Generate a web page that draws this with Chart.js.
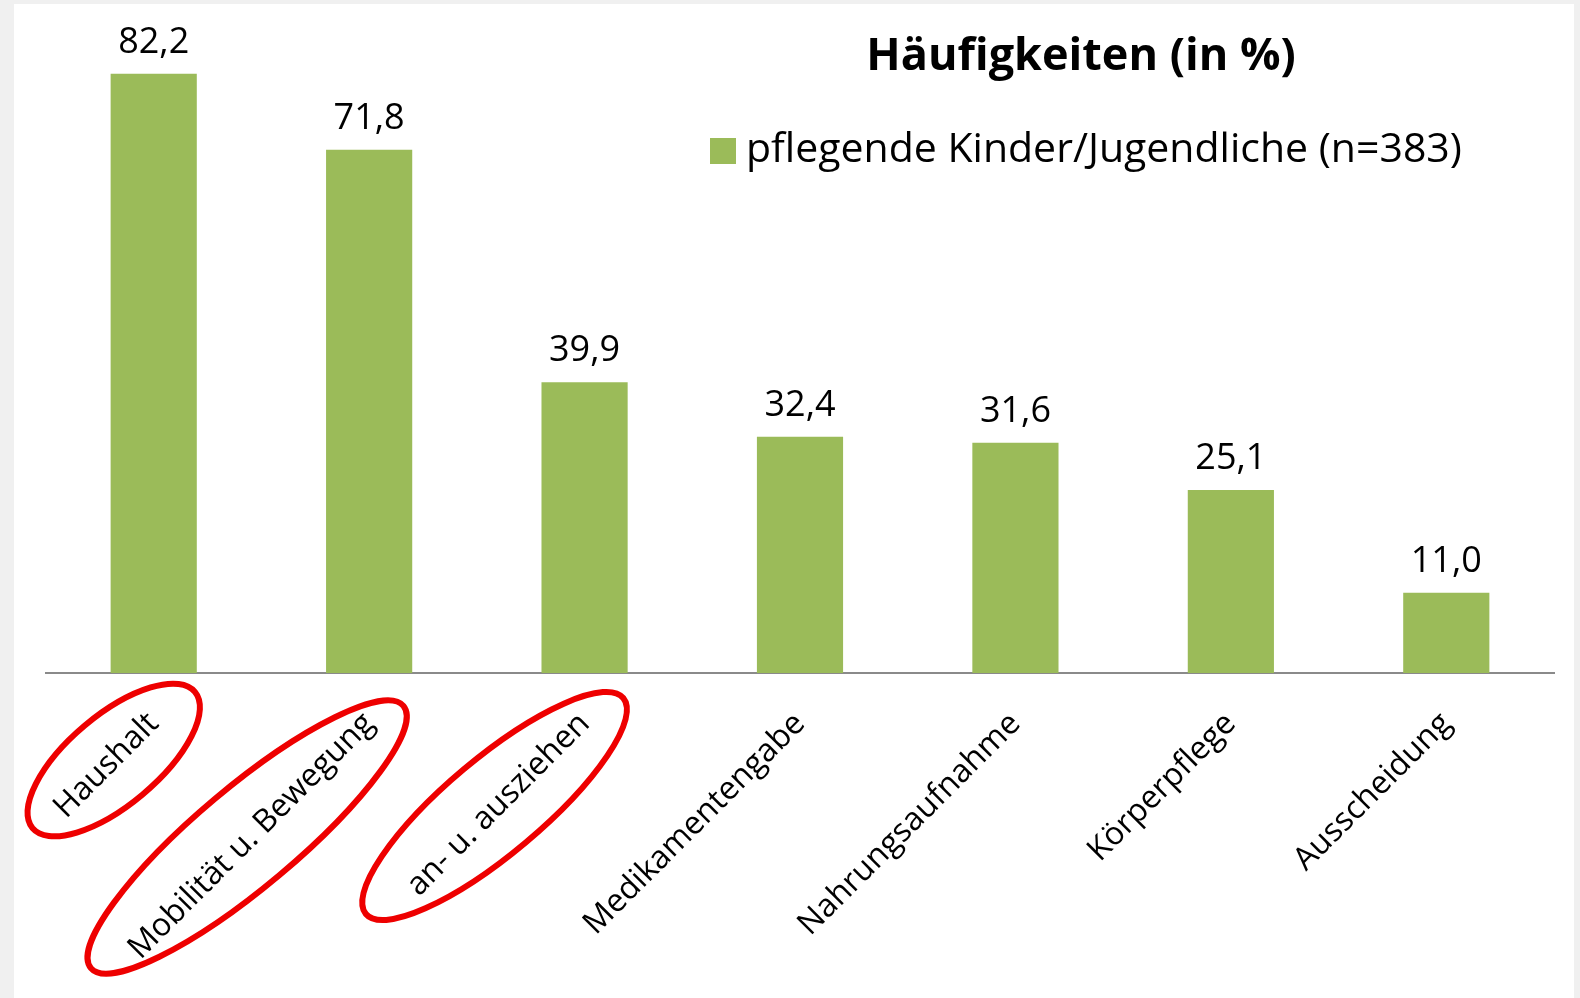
<!DOCTYPE html>
<html>
<head>
<meta charset="utf-8">
<script src="https://cdn.jsdelivr.net/npm/chart.js@4"></script>
<style>
  html, body { margin: 0; padding: 0; background: #f0f0f0; }
  #wrap { width: 1580px; height: 998px; }
</style>
</head>
<body>
<div id="wrap"><canvas id="myChart"></canvas></div>
<script>
const categories = ['Haushalt', 'Mobilität u. Bewegung', 'an- u. ausziehen', 'Medikamentengabe', 'Nahrungsaufnahme', 'Körperpflege', 'Ausscheidung'];
const values = [82.2, 71.8, 39.9, 32.4, 31.6, 25.1, 11.0];
const seriesLabel = 'pflegende Kinder/Jugendliche (n=383)';
const chartTitle = 'Häufigkeiten (in %)';
const circled = [0, 1, 2];

const green = '#9bbb59';

// hand drawn red rings around the first three labels (offsets from tick / axis)
const rings = [
  { dx: -40, dy: 87, a: 106, b: 45 },
  { dx: -122, dy: 164, a: 204, b: 50 },
  { dx: -90, dy: 133, a: 168, b: 48 },
];

const panel = {
  id: 'panel',
  beforeDraw(chart) {
    const c = chart.ctx;
    c.save();
    c.fillStyle = '#ffffff';
    c.fillRect(14, 4, 1560, 994);
    c.restore();
  }
};

const valueLabels = {
  id: 'valueLabels',
  afterDatasetsDraw(chart) {
    const c = chart.ctx;
    const meta = chart.getDatasetMeta(0);
    c.save();
    c.font = "36px 'Open Sans'";
    c.fillStyle = '#000';
    c.textAlign = 'center';
    c.textBaseline = 'alphabetic';
    meta.data.forEach((bar, i) => {
      c.fillText(values[i].toFixed(1).replace('.', ','), bar.x, bar.y - 21);
    });
    c.restore();
  }
};

const header = {
  id: 'header',
  afterDraw(chart) {
    const c = chart.ctx;
    const ds = chart.data.datasets[0];
    c.save();
    c.fillStyle = '#000';
    c.textBaseline = 'middle';
    c.textAlign = 'center';
    c.font = "bold 45px 'Open Sans'";
    c.fillText(chartTitle, 1081, 57);
    c.fillStyle = ds.backgroundColor;
    c.fillRect(710, 138, 26, 26);
    c.fillStyle = '#000';
    c.textAlign = 'left';
    c.font = "41px 'Open Sans'";
    c.fillText(ds.label, 746, 150);
    c.restore();
  }
};

const redRings = {
  id: 'redRings',
  afterDraw(chart) {
    const c = chart.ctx;
    const xs = chart.scales.x;
    const axisY = chart.chartArea.bottom;
    c.save();
    c.strokeStyle = '#ee0000';
    c.lineWidth = 6;
    circled.forEach((idx, k) => {
      const r = rings[k];
      c.beginPath();
      c.ellipse(xs.getPixelForValue(idx) + r.dx, axisY + r.dy, r.a, r.b, -40 * Math.PI / 180, 0, Math.PI * 2);
      c.stroke();
    });
    c.restore();
  }
};

Chart.defaults.font.family = "'Open Sans', sans-serif";
Chart.defaults.color = '#000';

const ctx = document.getElementById('myChart');
new Chart(ctx, {
  type: 'bar',
  data: {
    labels: categories,
    datasets: [{
      label: seriesLabel,
      data: values,
      backgroundColor: green,
      categoryPercentage: 1,
      barPercentage: 0.4,
    }]
  },
  options: {
    responsive: true,
    maintainAspectRatio: false,
    animation: false,
    layout: { padding: { left: 46, right: 26, top: 17, bottom: 0 } },
    plugins: {
      legend: { display: false },
      title: { display: false },
      tooltip: { enabled: false },
    },
    scales: {
      x: {
        grid: { display: false },
        border: { display: true, color: '#8a8a8a', width: 2 },
        ticks: {
          autoSkip: false,
          minRotation: 45,
          maxRotation: 45,
          padding: 24,
          font: { size: 32 },
          color: '#000',
        },
        afterFit(scale) { scale.height = 325; },
      },
      y: {
        display: false,
        min: 0,
        max: 90,
      }
    }
  },
  plugins: [panel, valueLabels, header, redRings]
});
</script>
</body>
</html>
